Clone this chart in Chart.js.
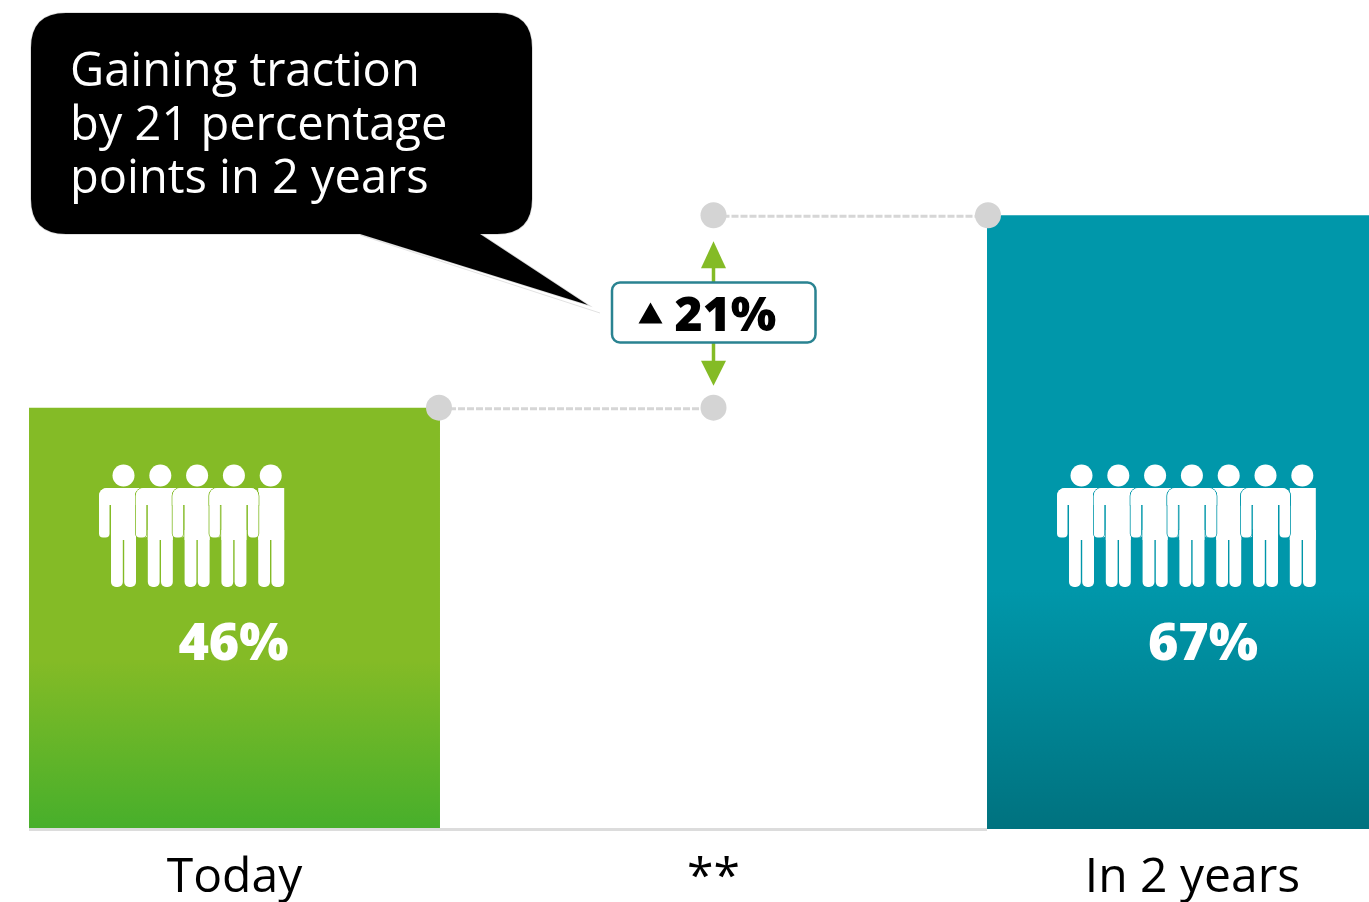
<!DOCTYPE html>
<html>
<head>
<meta charset="utf-8">
<title>Gaining traction</title>
<script src="https://cdn.jsdelivr.net/npm/chart.js@4"></script>
<style>
  html, body { margin: 0; padding: 0; background: #fff; overflow: hidden; }
  #frame { position: relative; width: 1369px; height: 902px; overflow: hidden; }
  #chart { position: absolute; left: -5px; top: 0; }
</style>
</head>
<body>
<div id="frame"><canvas id="chart" width="1437" height="902"></canvas></div>
<script>
const categories = ['Today', '**', 'In 2 years'];
const adoption = [46, null, 67];
const peopleCount = [5, 0, 7];
const calloutLines = ['Gaining traction', 'by 21 percentage', 'points in 2 years'];
const deltaPoints = 21;

const FONT = '"Open Sans", sans-serif';
const SHIFT = 5; // the canvas starts 5px left of the frame
const GREEN = '#84bb26', TEAL = '#0097aa';

function barGradient(ctx) {
  const chart = ctx.chart;
  if (!chart.chartArea || !Number.isFinite(ctx.raw)) return GREEN;
  const y0 = chart.scales.y.getPixelForValue(ctx.raw);
  const y1 = chart.scales.y.getPixelForValue(0);
  const g = chart.ctx.createLinearGradient(0, y0, 0, y1);
  if (ctx.dataIndex === 0) {
    g.addColorStop(0, GREEN);
    g.addColorStop(0.6, GREEN);
    g.addColorStop(1, '#47af2b');
  } else {
    g.addColorStop(0, TEAL);
    g.addColorStop(0.61, TEAL);
    g.addColorStop(1, '#00727f');
  }
  return g;
}

// One standing figure; the last in a row has its arms cut away.
function figure(ctx, cx, color, armless) {
  const top = 488, bottom = 587;
  const parts = [];
  const add = (x, y, w, h, r) => { const p = new Path2D(); p.roundRect(x, y, w, h, r); parts.push(p); };
  const head = new Path2D(); head.arc(cx, 475.5, 11, 0, Math.PI * 2); parts.push(head);
  if (armless) {
    add(cx - 12.5, top, 26, 52, 0);
  } else {
    add(cx - 24.5, top, 49, 17, [8, 8, 0, 0]);
    add(cx - 24.5, top, 10.5, 49.5, [8, 0, 4, 4]);
    add(cx + 14, top, 10.5, 49.5, [0, 8, 4, 4]);
    add(cx - 12.5, top, 25, 52, 0);
  }
  add(cx - 12.5, 530, 11.8, bottom - 530, [0, 0, 5, 5]);
  add(cx + 0.7, 530, armless ? 12.8 : 11.8, bottom - 530, [0, 0, 5, 5]);
  ctx.strokeStyle = color; ctx.lineWidth = 1.6;
  parts.forEach(p => ctx.stroke(p));
  ctx.fillStyle = '#fff';
  parts.forEach(p => ctx.fill(p));
}

function crowd(ctx, firstHead, count, color) {
  const step = 36.8;
  const x = i => firstHead + step * i;
  figure(ctx, x(count - 1), color, true);
  for (let i = 0; i < count - 1; i++) if (i !== 3) figure(ctx, x(i), color, false);
  figure(ctx, x(3), color, false);
}

const annotations = {
  id: 'annotations',
  afterDatasetsDraw(chart) {
    const { ctx, scales } = chart;
    const bars = chart.getDatasetMeta(0).data;
    const a = bars[0], b = bars[2];
    const aRight = a.x + a.width / 2, aLeft = a.x - a.width / 2, bLeft = b.x - b.width / 2;
    const midX = scales.x.getPixelForValue(1);
    const yLow = scales.y.getPixelForValue(adoption[0]);
    const yHigh = scales.y.getPixelForValue(adoption[2]);
    const baseY = scales.y.getPixelForValue(0);
    const midY = (yLow + yHigh) / 2 + 1;

    ctx.save();
    // baseline between and under the bars
    ctx.strokeStyle = '#dcdcdc'; ctx.lineWidth = 3;
    ctx.beginPath(); ctx.moveTo(aLeft, baseY + 0.5); ctx.lineTo(bLeft, baseY + 0.5); ctx.stroke();

    // people and percentages inside the bars
    crowd(ctx, aLeft + 94.5, peopleCount[0], GREEN);
    crowd(ctx, bLeft + 94.5, peopleCount[2], TEAL);
    ctx.fillStyle = '#fff';
    ctx.font = '800 52px ' + FONT;
    ctx.textAlign = 'center'; ctx.textBaseline = 'alphabetic';
    ctx.fillText(adoption[0] + '%', a.x - 1, 660);
    ctx.fillText(adoption[2] + '%', b.x + 10.5, 660);

    // dashed guides with end dots
    ctx.strokeStyle = '#d6d6d6'; ctx.lineWidth = 3; ctx.setLineDash([7, 2]);
    [[aRight, midX, yLow], [midX, bLeft, yHigh]].forEach(([x0, x1, y]) => {
      ctx.beginPath(); ctx.moveTo(x0, y + 1); ctx.lineTo(x1, y + 1); ctx.stroke();
    });
    ctx.setLineDash([]);
    ctx.fillStyle = '#d4d4d4';
    [[aRight - 1, yLow], [midX, yLow], [midX, yHigh], [bLeft + 1, yHigh]].forEach(([x, y]) => {
      ctx.beginPath(); ctx.arc(x, y, 13, 0, Math.PI * 2); ctx.fill();
    });

    // green double arrow
    ctx.strokeStyle = GREEN; ctx.fillStyle = GREEN; ctx.lineWidth = 3.5;
    ctx.beginPath(); ctx.moveTo(midX, yHigh + 45); ctx.lineTo(midX, yLow - 40); ctx.stroke();
    ctx.beginPath(); ctx.moveTo(midX, yHigh + 26); ctx.lineTo(midX + 12.5, yHigh + 53);
    ctx.lineTo(midX - 12.5, yHigh + 53); ctx.closePath(); ctx.fill();
    ctx.beginPath(); ctx.moveTo(midX, yLow - 22); ctx.lineTo(midX + 12.5, yLow - 47);
    ctx.lineTo(midX - 12.5, yLow - 47); ctx.closePath(); ctx.fill();

    // delta badge
    ctx.beginPath(); ctx.roundRect(midX - 101.5, midY - 30, 203.5, 60, 8);
    ctx.fillStyle = '#fff'; ctx.fill();
    ctx.strokeStyle = '#2a8391'; ctx.lineWidth = 2.5; ctx.stroke();
    ctx.fillStyle = '#000';
    ctx.beginPath(); ctx.moveTo(midX - 63, midY - 10); ctx.lineTo(midX - 51, midY + 11);
    ctx.lineTo(midX - 75, midY + 11); ctx.closePath(); ctx.fill();
    ctx.font = '800 48px ' + FONT; ctx.textAlign = 'left';
    ctx.fillText(deltaPoints + '%', midX - 39, midY + 19);

    // speech bubble
    ctx.translate(SHIFT, 0);
    ctx.strokeStyle = '#e2e2e2'; ctx.lineWidth = 1;
    ctx.beginPath(); ctx.moveTo(360, 235); ctx.lineTo(600, 313); ctx.stroke();
    const bubble = new Path2D();
    bubble.moveTo(66, 13);
    bubble.lineTo(497, 13); bubble.quadraticCurveTo(532, 13, 532, 48);
    bubble.lineTo(532, 199); bubble.quadraticCurveTo(532, 234, 497, 234);
    bubble.lineTo(480, 234); bubble.lineTo(588, 305); bubble.lineTo(360, 234);
    bubble.lineTo(66, 234); bubble.quadraticCurveTo(31, 234, 31, 199);
    bubble.lineTo(31, 48); bubble.quadraticCurveTo(31, 13, 66, 13);
    bubble.closePath();
    ctx.strokeStyle = '#d8d8d8'; ctx.lineWidth = 1.5; ctx.stroke(bubble);
    ctx.fillStyle = '#000'; ctx.fill(bubble);
    ctx.fillStyle = '#fff'; ctx.font = '500 47px ' + FONT;
    calloutLines.forEach((t, i) => ctx.fillText(t, 70, 86 + i * 53.5));
    ctx.restore();
  }
};

new Chart(document.getElementById('chart'), {
  type: 'bar',
  data: {
    labels: categories,
    datasets: [{
      data: adoption,
      backgroundColor: barGradient,
      borderWidth: 0,
      categoryPercentage: 1,
      barPercentage: 0.858
    }]
  },
  options: {
    responsive: false,
    animation: false,
    layout: { padding: 0 },
    plugins: { legend: { display: false }, tooltip: { enabled: false }, title: { display: false } },
    scales: {
      x: {
        grid: { display: false },
        border: { display: false },
        afterFit(scale) { scale.height = 73; },
        ticks: { color: '#000', padding: 13, maxRotation: 0, autoSkip: false, font: { family: FONT, size: 48 } }
      },
      y: { display: false, min: 0, max: 90.5 }
    }
  },
  plugins: [annotations]
});
</script>
</body>
</html>
